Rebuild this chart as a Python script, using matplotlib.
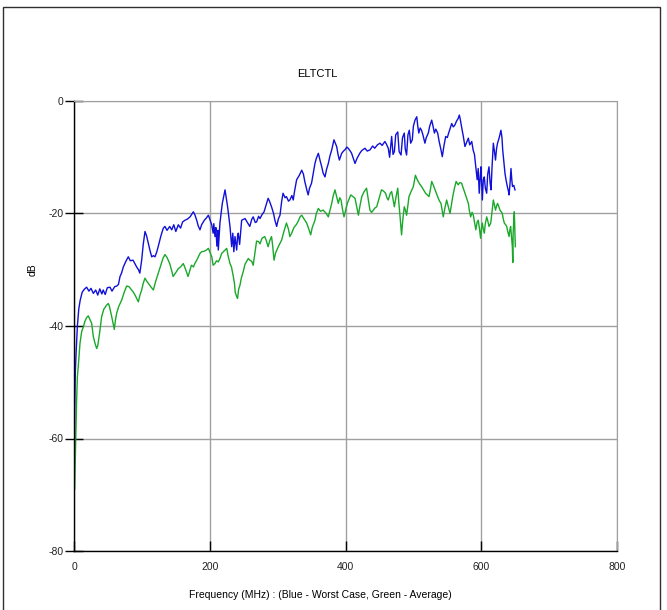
import numpy as np
import matplotlib
matplotlib.use("Agg")
import matplotlib.pyplot as plt
from matplotlib.patches import Rectangle

plt.rcParams['font.family'] = ['Liberation Sans', 'DejaVu Sans']
plt.rcParams['axes.unicode_minus'] = False

# values (MHz, dB)
worst_freq = [0.5, 1, 2, 3, 5, 7, 9, 12, 15, 18.6, 22, 25, 28.5, 32, 35, 38, 41, 43, 46, 49,
              53, 56, 60, 63, 65.5, 67.8, 70, 72.7, 76, 80, 83, 87, 90, 92.3, 95, 97, 99.7, 102,
              104.6, 107, 109.5, 112, 114.5, 117, 119.3, 122, 124, 128, 131.6, 134, 137, 141,
              144, 147, 150, 153.7, 157, 160, 163.5, 167, 171, 175.8, 178, 180.8, 183, 185.6,
              188, 192, 195, 198, 200, 202.9, 205, 206, 207.7, 209, 210.5, 212, 212.6, 214, 215,
              218.5, 222.5, 226.3, 229.8, 231, 232.3, 234, 235.5, 237.2, 239.7, 241, 242, 244,
              247, 252, 255, 259, 262, 264, 267, 269, 272, 274, 277, 280, 283, 286, 288, 291,
              294, 296, 298.6, 301, 303.5, 306, 308, 311, 313, 316, 318, 321, 323, 325, 328, 332,
              335.5, 338, 340, 343, 345, 347, 350, 352, 355, 357, 360, 363, 365, 367, 369.8, 372,
              374.7, 377, 379.7, 383, 385, 387, 389, 391, 394.4, 397, 399, 402, 404, 407, 409,
              412, 414, 417, 421, 424, 428.7, 432, 436, 440, 443, 447, 450.8, 454, 458, 460, 463,
              465, 468, 470, 472, 474, 477, 479, 481.8, 484, 486.6, 488, 490, 492, 494, 496,
              498.4, 500, 502.4, 505, 506.5, 508, 510, 512, 514, 517, 519, 522, 524, 527, 529,
              531, 533, 535.8, 538, 540.7, 542.6, 545, 547.6, 550, 552.5, 556.5, 558.8, 561,
              563.5, 566, 567.7, 569, 571, 573.6, 576, 578, 581, 583, 586, 588, 590, 592, 594,
              595.5, 597, 598.5, 599.6, 601.6, 603, 604.5, 606, 608, 609.5, 611.4, 613, 614.4,
              616, 617.8, 619.5, 621, 622.5, 624, 626.5, 629, 630.5, 631.6, 633, 635, 636.5,
              638.4, 640, 641, 642.5, 643.8, 645, 646, 648, 649.7]
worst_db = [-62, -55, -48, -45, -40, -37, -35.5, -34, -33.5, -33.1, -33.8, -33.3, -34.2, -33.6,
            -34.5, -33.4, -34.3, -33.6, -34.4, -33.2, -33.1, -33.8, -33.0, -32.9, -32.6, -31.2,
            -30.6, -29.5, -28.6, -27.7, -28.4, -28.3, -29.0, -29.5, -30.0, -30.6, -28.3, -25.5,
            -23.2, -24.0, -25.3, -26.6, -27.7, -27.5, -27.7, -26.8, -25.9, -24.0, -22.6, -22.3,
            -23.0, -22.3, -22.9, -22.0, -23.2, -22.0, -22.6, -21.5, -21.2, -21.0, -20.6, -19.7,
            -20.2, -21.2, -22.2, -22.9, -22.0, -21.2, -20.8, -20.3, -21.0, -22.0, -23.5, -21.8,
            -24.1, -22.5, -25.8, -23.0, -26.5, -23.5, -21.7, -18.2, -15.8, -18.8, -22.3, -24.0,
            -25.9, -23.5, -26.8, -24.1, -26.5, -24.0, -23.5, -25.5, -21.2, -20.9, -21.5, -22.3,
            -21.0, -20.6, -21.6, -21.5, -20.5, -20.9, -20.2, -19.7, -18.5, -17.3, -17.8, -18.8,
            -20.0, -21.2, -22.3, -21.0, -20.3, -17.8, -16.4, -17.2, -17.0, -17.8, -17.6, -16.8,
            -17.6, -16.0, -14.0, -13.2, -12.3, -13.0, -14.3, -15.8, -16.7, -15.5, -14.6, -13.2,
            -11.1, -10.2, -9.3, -10.8, -11.7, -12.8, -13.5, -12.2, -11.1, -9.8, -8.7, -6.9,
            -7.5, -8.1, -9.5, -10.5, -9.3, -8.9, -8.7, -8.2, -8.4, -8.9, -9.3, -10.4, -11.1,
            -10.2, -9.3, -8.8, -8.4, -8.9, -8.7, -8.0, -8.4, -7.8, -7.5, -7.9, -7.2, -7.6, -8.4,
            -10.0, -6.3, -9.5, -9.0, -6.0, -5.5, -9.0, -9.6, -6.5, -5.7, -8.5, -9.6, -6.0, -5.2,
            -7.5, -6.9, -4.5, -3.4, -2.8, -4.5, -5.7, -4.8, -5.2, -6.0, -7.5, -6.5, -5.7, -4.5,
            -3.4, -4.5, -5.7, -5.0, -5.7, -7.2, -8.7, -9.9, -8.0, -6.3, -6.5, -5.5, -4.0, -4.6,
            -4.3, -3.6, -3.1, -2.5, -3.2, -4.6, -6.3, -8.1, -7.5, -6.6, -7.8, -7.2, -8.7, -9.5,
            -11.7, -14.0, -12.0, -16.4, -13.5, -11.7, -17.6, -14.0, -13.5, -15.5, -16.4, -13.0,
            -11.7, -14.5, -15.8, -11.5, -7.5, -9.0, -10.5, -8.5, -7.5, -6.5, -5.2, -6.5, -8.7,
            -10.5, -12.9, -14.0, -15.2, -16.0, -16.7, -14.5, -12.0, -14.0, -15.2, -15.0, -15.8]

avg_freq = [1, 2, 3, 3.9, 5, 6.4, 8.8, 11.3, 13.7, 16, 18.6, 21, 23.6, 26, 28.5, 31, 33.4, 35,
            37.3, 40.8, 44, 48, 50.5, 52, 55.5, 57.5, 59.4, 61, 62.9, 66, 70.2, 74, 77.6, 81, 85,
            87.5, 89.9, 92, 94.8, 97, 99.7, 102, 104.6, 107, 109.5, 113, 116.9, 120, 124.2, 128,
            131, 134, 137, 141, 144, 146, 150, 153.7, 157, 161, 164, 168, 171, 173, 176, 178,
            180.8, 185.6, 188, 192, 195, 198, 200, 203, 205, 207.7, 210, 212.6, 215, 217.6, 220,
            222.5, 225, 227, 229.8, 232, 234.7, 236.5, 237.5, 239.7, 241, 242.5, 244.6, 246.5,
            249.4, 252, 256.8, 259, 261.8, 264, 266, 269, 272, 274, 277, 281, 283, 286, 288.5,
            291, 292.5, 294.7, 297, 301, 303.5, 306, 309, 313, 316, 318, 320.7, 324, 328, 331,
            333, 335.5, 338, 342.8, 346, 348.7, 351, 355, 357, 360, 363, 367, 371, 374.7, 377,
            379.7, 382, 384.5, 387, 389.4, 391.5, 393.4, 395.5, 397.8, 400, 402.7, 405, 407.7,
            411, 414, 416.5, 419, 421.5, 424, 427, 431, 433.5, 436, 438.5, 441, 443.5, 446, 449,
            453, 456, 459, 461, 463, 466, 468, 470, 472, 474.5, 477, 478.5, 480, 482.6, 484.5,
            486.6, 488.5, 490, 492, 493.5, 497, 500, 503, 505, 507, 509.5, 512, 515, 518, 520.5,
            523, 525, 527, 529.5, 532, 534.5, 536.7, 538.5, 540.7, 542.5, 544, 546.5, 549,
            551.5, 554, 556, 558, 560.5, 563, 566, 568.5, 571, 573.5, 576, 578.5, 581, 582.5,
            584.4, 586.5, 588.3, 590, 592, 594, 595.6, 597.5, 599, 600.5, 601.6, 603, 604.5,
            606, 608, 610, 611.4, 614, 616, 617.8, 619.5, 621, 622.5, 624, 626, 627.6, 629.5,
            631, 632.5, 634, 636, 637.5, 639, 641, 642, 643.3, 644.5, 645.8, 646.5, 647, 648,
            648.7, 649.2, 649.7, 650.2]
avg_db = [-69, -63, -58, -53, -49, -47, -43.1, -41.0, -40.2, -39.2, -38.5, -38.2, -38.9, -39.5,
          -41.9, -43.1, -44.0, -43.5, -41.6, -38.3, -37.0, -36.3, -36.0, -36.4, -38.3, -39.5,
          -40.6, -39.0, -37.7, -36.5, -35.4, -34.0, -32.9, -33.0, -33.6, -34.0, -34.5, -35.0,
          -35.7, -34.6, -33.6, -32.4, -31.5, -32.0, -32.4, -33.0, -33.6, -32.2, -30.6, -29.2,
          -28.0, -27.3, -27.8, -28.9, -30.2, -31.2, -30.5, -29.8, -29.5, -28.9, -29.8, -31.2,
          -30.0, -29.2, -29.5, -28.9, -28.3, -27.1, -26.8, -26.7, -26.5, -26.2, -26.8, -27.7,
          -29.2, -28.9, -28.4, -28.6, -28.0, -27.1, -26.8, -26.5, -26.2, -27.5, -28.9, -29.5,
          -31.2, -32.5, -34.0, -34.8, -35.1, -33.5, -32.7, -31.5, -30.3, -29.0, -28.0, -28.3,
          -28.5, -29.2, -27.5, -24.9, -25.0, -25.4, -24.4, -24.1, -24.7, -25.9, -24.8, -24.1,
          -25.5, -28.3, -27.0, -25.9, -25.3, -24.7, -23.3, -21.7, -22.8, -24.1, -23.5, -22.5,
          -21.9, -21.2, -20.6, -20.3, -20.8, -21.7, -22.8, -23.8, -22.5, -21.2, -20.0, -19.1,
          -19.6, -19.4, -19.9, -20.6, -19.5, -18.2, -16.8, -15.8, -17.0, -18.2, -17.2, -17.6,
          -19.2, -20.6, -19.5, -18.2, -17.5, -16.7, -17.0, -17.3, -18.8, -20.3, -18.5, -17.0,
          -16.2, -15.5, -17.5, -19.4, -19.8, -19.4, -19.0, -18.8, -17.5, -15.8, -16.0, -16.4,
          -17.2, -17.6, -16.4, -16.1, -17.5, -18.8, -17.0, -15.5, -18.0, -20.0, -23.8, -21.0,
          -18.8, -19.5, -20.3, -18.5, -17.0, -16.0, -15.2, -13.2, -13.8, -14.3, -14.8, -15.2,
          -15.8, -16.4, -16.7, -17.0, -15.8, -14.3, -15.0, -15.8, -16.6, -17.3, -17.8, -18.2,
          -19.5, -20.6, -19.0, -17.6, -18.8, -20.0, -18.5, -17.0, -15.5, -14.3, -14.9, -14.5,
          -14.6, -15.5, -16.4, -17.3, -18.2, -19.5, -20.6, -19.8, -20.3, -21.5, -22.9, -21.5,
          -21.2, -22.8, -24.4, -22.5, -21.7, -22.8, -23.5, -21.8, -20.6, -21.5, -22.3, -21.7,
          -19.5, -17.6, -18.5, -19.4, -18.7, -18.2, -18.8, -19.4, -19.7, -20.0, -21.0, -21.7,
          -22.0, -22.3, -23.2, -24.1, -23.0, -22.3, -24.0, -25.9, -28.7, -23.5, -21.0, -19.7,
          -22.0, -24.7, -25.9]

x_ticks = [0, 200, 400, 600, 800]
y_ticks = [0, -20, -40, -60, -80]

W, H = 667, 610
fig = plt.figure(figsize=(W / 100, H / 100), dpi=100)
ax = fig.add_axes([74 / W, 1 - 551 / H, (617 - 74) / W, (551 - 101) / H])

ax.plot(avg_freq, avg_db, color='#1aa82a', lw=1.0)
ax.plot(worst_freq, worst_db, color='#1010d8', lw=1.0)

ax.set_xlim(0, 800)
ax.set_ylim(-80, 0)
ax.set_xticks(x_ticks)
ax.set_yticks(y_ticks)
ax.grid(True, color='#a0a0a0', lw=1.0)
ax.set_axisbelow(True)

for side in ['top', 'right']:
    ax.spines[side].set_color('#a0a0a0')
for side in ['left', 'bottom']:
    ax.spines[side].set_color('black')
    ax.spines[side].set_linewidth(1.0)

ax.tick_params(axis='x', direction='in', length=7.5, width=1, pad=8, labelsize=7.5, colors='black')
ax.tick_params(axis='y', direction='inout', length=13, width=1, pad=1, labelsize=7.5, colors='black')
for lab in ax.get_xticklabels() + ax.get_yticklabels():
    lab.set_color('#222222')

fig.text(317 / W, 1 - 74 / H, 'ELTCTL', ha='center', va='center', fontsize=8)
fig.text(320 / W, 1 - 595 / H, 'Frequency (MHz) : (Blue - Worst Case, Green - Average)',
         ha='center', va='center', fontsize=7.5)
fig.text(33 / W, 1 - 270 / H, 'dB', ha='center', va='center', rotation=90, fontsize=7.5)

# outer frame
fig.patches.append(Rectangle((2.5 / W, -0.05), (660 - 2.5) / W, 1.05 - 6.5 / H,
                             transform=fig.transFigure, fill=False, ec='#303030', lw=1.0))

fig.savefig('out.png', dpi=100)
